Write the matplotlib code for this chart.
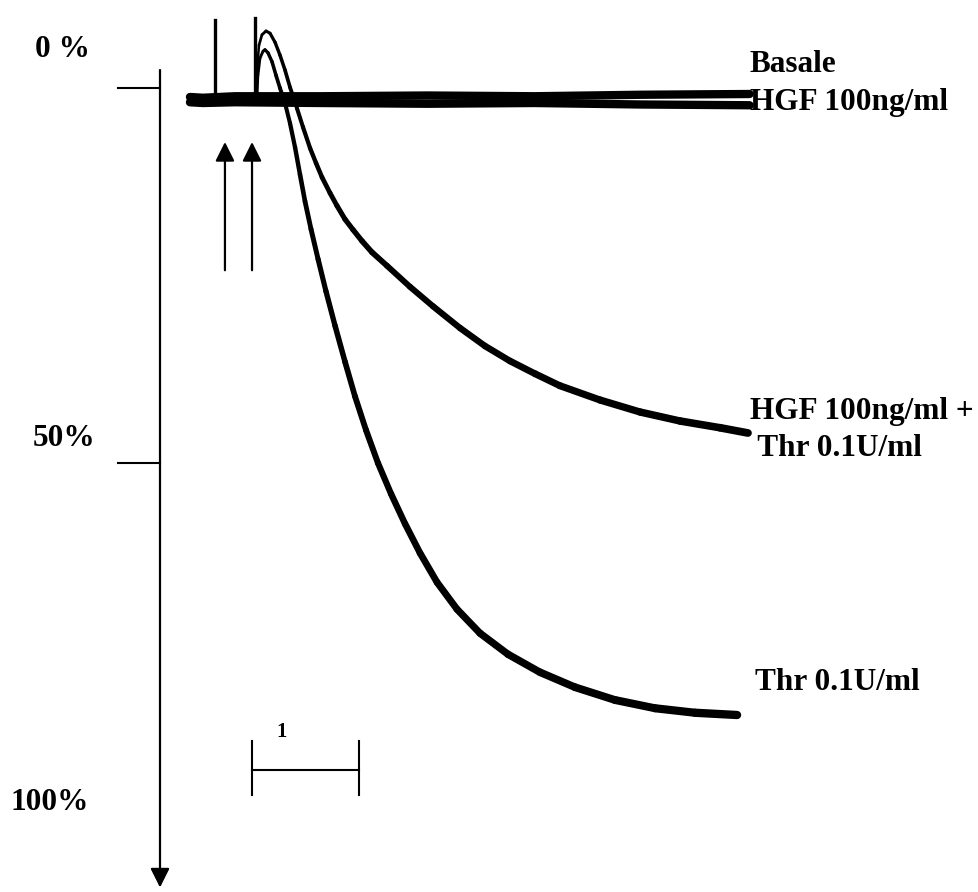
import numpy as np
import matplotlib
matplotlib.use("Agg")
import matplotlib.pyplot as plt
from matplotlib.collections import LineCollection

plt.rcParams["font.family"] = ["Liberation Serif", "DejaVu Serif"]
plt.rcParams["font.weight"] = "bold"

# time in minutes, aggregation in % (0 at top, 100 at bottom)
basale_t = [0.28, 0.40, 0.70, 1.50, 2.50, 3.50, 4.50, 5.51]
basale_y = [1.2, 1.3, 1.1, 1.1, 1.0, 1.1, 0.9, 0.8]

hgf_t = [0.28, 0.40, 0.70, 1.50, 2.50, 3.50, 4.50, 5.51]
hgf_y = [1.9, 2.0, 1.9, 2.0, 2.1, 2.0, 2.2, 2.3]

thr_t = [0.907, 0.916, 0.935, 0.963, 0.981, 1.009, 1.047, 1.084, 1.121, 1.168,
         1.215, 1.262, 1.308, 1.355, 1.411, 1.477, 1.551, 1.636, 1.729, 1.822,
         1.925, 2.037, 2.159, 2.290, 2.430, 2.589, 2.776, 2.991, 3.252, 3.551,
         3.879, 4.252, 4.626, 5.000, 5.393]
thr_y = [1.6, -1.7, -4.0, -4.9, -5.1, -4.7, -3.5, -1.7, 0.0, 2.0,
         4.7, 7.9, 11.5, 15.1, 18.8, 22.8, 27.1, 31.7, 36.5, 41.1,
         45.6, 50.0, 54.1, 58.1, 62.0, 65.9, 69.5, 72.7, 75.5, 77.9,
         79.9, 81.6, 82.7, 83.3, 83.6]

hgf_thr_t = [0.897, 0.907, 0.925, 0.953, 0.991, 1.028, 1.075, 1.121, 1.168, 1.215,
             1.280, 1.336, 1.402, 1.458, 1.514, 1.589, 1.654, 1.729, 1.804, 1.888,
             1.981, 2.121, 2.336, 2.551, 2.804, 3.037, 3.271, 3.505, 3.738, 4.112,
             4.486, 4.860, 5.234, 5.495]
hgf_thr_y = [1.6, -2.4, -5.7, -7.1, -7.6, -7.3, -6.1, -4.4, -2.4, -0.1,
             2.7, 5.2, 8.0, 10.0, 11.9, 14.0, 15.7, 17.5, 18.9, 20.4,
             21.9, 23.7, 26.5, 29.1, 32.0, 34.4, 36.4, 38.1, 39.7, 41.6,
             43.2, 44.4, 45.3, 46.0]

# injection artefacts (HGF, then thrombin) and the addition arrows
spike_t = [0.514, 0.888]
spike_top = [-9.1, -9.3]
arrow_t = [0.607, 0.860]

scale_start, scale_len = 0.86, 1.0  # 1 min bar
axis_ticks = [0, 50]
axis_labels = ["0 %", "50%", "100%"]
axis_label_y = [-5.1, 46.7, 95.3]
axis_label_x = [-1.17, -1.19, -1.40]

PX_PER_MIN = 107.0
PX_PER_PCT = 7.5
W, H = 979, 892
X0, Y0 = 160, 88
FS = 22.5
ARROW = dict(arrowstyle="-|>,head_length=0.4,head_width=0.2", color="black",
             lw=1.6, mutation_scale=29, shrinkA=0, shrinkB=0)


def tapered(ax, t, y, w0, w1):
    pts = np.column_stack([t, y])
    segs = np.stack([pts[:-1], pts[1:]], axis=1)
    lc = LineCollection(segs, linewidths=np.linspace(w0, w1, len(segs)),
                        colors="black", capstyle="round", joinstyle="round")
    ax.add_collection(lc)


fig = plt.figure(figsize=(W / 100, H / 100), dpi=100)
ax = fig.add_axes([0, 0, 1, 1])
ax.set_xlim(-X0 / PX_PER_MIN, (W - X0) / PX_PER_MIN)
ax.set_ylim((H - Y0) / PX_PER_PCT, -Y0 / PX_PER_PCT)
ax.axis("off")

# vertical aggregation axis with downward arrow
ax.annotate("", xy=(0, 106.6), xytext=(0, -2.4), arrowprops=ARROW)
for v in axis_ticks:
    ax.plot([-42 / PX_PER_MIN, 0], [v, v], color="black", lw=1.5)
for lab, xx, yy in zip(axis_labels, axis_label_x, axis_label_y):
    ax.text(xx, yy, lab, fontsize=FS, ha="left", va="center")

# traces
ax.plot(basale_t, basale_y, color="black", lw=6, solid_capstyle="round")
ax.plot(hgf_t, hgf_y, color="black", lw=6, solid_capstyle="round")
for st, top in zip(spike_t, spike_top):
    ax.plot([st, st], [1.5, top], color="black", lw=2.4)
tapered(ax, thr_t, thr_y, 1.8, 6.0)
tapered(ax, hgf_thr_t, hgf_thr_y, 1.7, 5.6)

for at in arrow_t:
    ax.annotate("", xy=(at, 7.2), xytext=(at, 24.3), arrowprops=ARROW)

# time scale bar
ax.plot([scale_start, scale_start + scale_len], [90.9, 90.9], color="black", lw=1.5)
for xe in (scale_start, scale_start + scale_len):
    ax.plot([xe, xe], [87.1, 94.3], color="black", lw=1.5)
ax.text(scale_start + 0.28, 87.2, "1", fontsize=15, ha="center", va="bottom")

# trace labels
ax.text(5.51, -3.1, "Basale", fontsize=FS, ha="left", va="center")
ax.text(5.51, 1.9, "HGF 100ng/ml", fontsize=FS, ha="left", va="center")
ax.text(5.51, 43.2, "HGF 100ng/ml +", fontsize=FS, ha="left", va="center")
ax.text(5.51, 48.0, " Thr 0.1U/ml", fontsize=FS, ha="left", va="center")
ax.text(5.56, 79.3, "Thr 0.1U/ml", fontsize=FS, ha="left", va="center")

fig.savefig("out.png", dpi=100)
